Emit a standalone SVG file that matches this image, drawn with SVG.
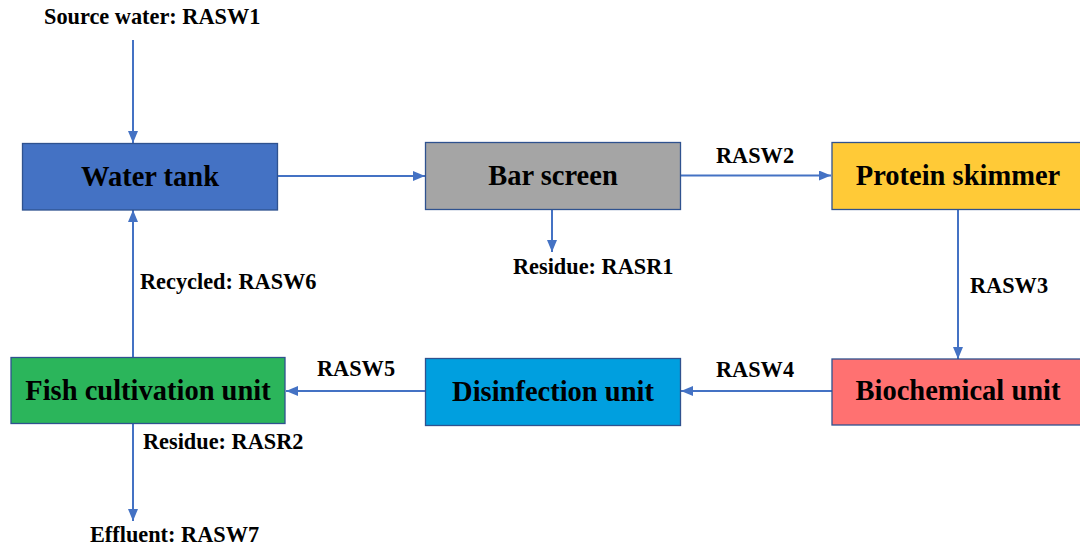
<svg xmlns="http://www.w3.org/2000/svg" width="1080" height="551" viewBox="0 0 1080 551">
<defs>
<style>
.box{stroke:#2F528F;stroke-width:1.3}
.t{font-family:"Liberation Serif","Times New Roman",serif;font-weight:bold;font-size:28.5px;fill:#000;text-anchor:middle}
.l{font-family:"Liberation Serif","Times New Roman",serif;font-weight:bold;font-size:22.3px;fill:#000}
.c{stroke:#4472C4;stroke-width:2;fill:none;marker-end:url(#ah)}
</style>
<marker id="ah" viewBox="0 0 10 10" refX="10" refY="5" markerWidth="6" markerHeight="5" orient="auto" markerUnits="strokeWidth" preserveAspectRatio="none">
<path d="M0,0 L10,5 L0,10 z" fill="#4472C4"/>
</marker>
</defs>
<rect width="1080" height="551" fill="#fff"/>
<g id="connectors">
<line class="c" x1="133" y1="40" x2="133" y2="143"/>
<line class="c" x1="278" y1="176" x2="425" y2="176"/>
<line class="c" x1="681" y1="175.5" x2="831" y2="175.5"/>
<line class="c" x1="552" y1="210" x2="552" y2="252"/>
<line class="c" x1="958" y1="210" x2="958" y2="359"/>
<line class="c" x1="832" y1="391" x2="681" y2="391"/>
<line class="c" x1="425" y1="391" x2="286" y2="391"/>
<line class="c" x1="133" y1="357" x2="133" y2="210"/>
<line class="c" x1="133" y1="424" x2="133" y2="521"/>
</g>
<g id="water-tank">
<rect class="box" x="22.5" y="143.5" width="255" height="66.5" fill="#4472C4"/>
<text class="t" x="150" y="186">Water tank</text>
</g>
<g id="bar-screen">
<rect class="box" x="425.5" y="142.5" width="255" height="67" fill="#A5A5A5"/>
<text class="t" x="553" y="185">Bar screen</text>
</g>
<g id="protein-skimmer">
<rect class="box" x="832" y="142.5" width="255" height="67" fill="#FFCA37"/>
<text class="t" x="958" y="185">Protein skimmer</text>
</g>
<g id="biochemical-unit">
<rect class="box" x="832" y="359" width="255" height="66" fill="#FF7171"/>
<text class="t" x="958" y="400">Biochemical unit</text>
</g>
<g id="disinfection-unit">
<rect class="box" x="425.5" y="358.5" width="255" height="67" fill="#009FDF"/>
<text class="t" x="553" y="401">Disinfection unit</text>
</g>
<g id="fish-cultivation-unit">
<rect class="box" x="11" y="357.5" width="274" height="66" fill="#2BB55B"/>
<text class="t" x="148" y="400">Fish cultivation unit</text>
</g>
<g id="labels">
<text class="l" x="44" y="24">Source water: RASW1</text>
<text class="l" x="716" y="163">RASW2</text>
<text class="l" x="513" y="274">Residue: RASR1</text>
<text class="l" x="970" y="293">RASW3</text>
<text class="l" x="716" y="377">RASW4</text>
<text class="l" x="317" y="376">RASW5</text>
<text class="l" x="140" y="289">Recycled: RASW6</text>
<text class="l" x="143" y="449">Residue: RASR2</text>
<text class="l" x="90" y="542">Effluent: RASW7</text>
</g>
</svg>
